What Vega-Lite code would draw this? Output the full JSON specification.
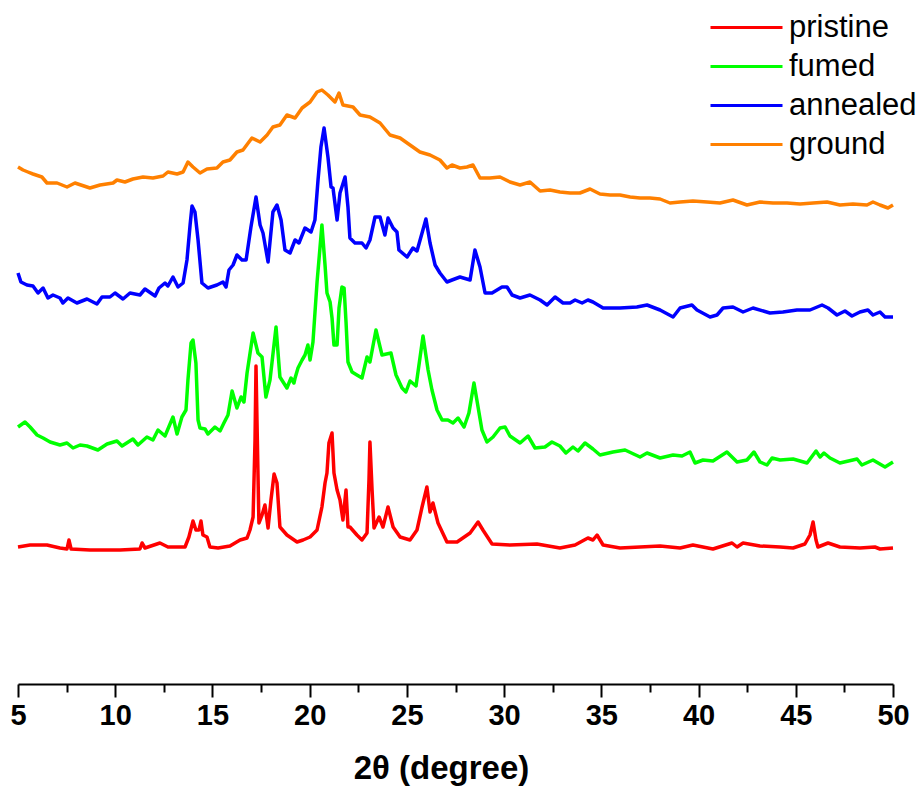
{
  "$schema": "https://vega.github.io/schema/vega-lite/v6.json",
  "width": 875,
  "height": 684,
  "autosize": {"type": "none"},
  "padding": {"left": 18, "right": 29, "top": 0, "bottom": 105},
  "background": "white",
  "config": {"view": {"stroke": null}},
  "datasets": {
    "ground": [[5.00,517],[5.26,514],[5.51,512],[5.77,510],[6.23,507],[6.49,501],[7.01,501],[7.52,497],[7.93,501],[8.70,496],[9.22,499],[9.89,501],[10.09,504],[10.50,502],[10.91,505],[11.43,507],[11.94,506],[12.46,508],[12.71,512],[13.18,510],[13.49,512],[13.74,522],[14.00,517],[14.36,511],[14.72,515],[15.23,516],[15.54,522],[15.90,524],[16.26,532],[16.57,534],[17.03,546],[17.45,542],[17.81,549],[18.11,557],[18.47,559],[18.83,569],[19.25,566],[19.61,576],[20.02,582],[20.38,592],[20.63,594],[20.94,589],[21.30,582],[21.51,591],[21.71,579],[22.23,577],[22.59,569],[23.10,567],[23.62,561],[24.13,549],[24.65,546],[25.16,539],[25.67,532],[26.19,529],[26.70,524],[27.06,516],[27.32,519],[27.73,516],[28.09,517],[28.40,519],[28.76,506],[29.27,506],[29.79,507],[30.30,502],[30.82,499],[31.33,502],[31.85,493],[32.36,494],[32.87,492],[33.39,491],[33.90,491],[34.42,495],[34.93,490],[35.45,489],[35.96,489],[36.48,487],[36.99,486],[37.50,486],[38.02,485],[38.53,481],[39.05,482],[39.71,483],[40.44,482],[41.10,481],[41.77,484],[42.49,479],[43.16,482],[43.83,481],[44.55,481],[45.22,480],[45.89,481],[46.61,482],[47.27,479],[47.94,480],[48.66,479],[48.97,482],[49.33,479],[49.74,476],[50.00,479]],
    "annealed": [[5.00,411],[5.15,402],[5.46,399],[5.77,398],[6.03,391],[6.29,396],[6.54,386],[6.80,389],[7.16,386],[7.31,381],[7.57,386],[8.03,381],[8.55,385],[9.06,380],[9.32,387],[9.73,387],[9.99,391],[10.40,385],[10.76,391],[11.27,389],[11.53,395],[12.05,388],[12.25,396],[12.56,401],[12.71,398],[12.97,407],[13.23,397],[13.49,401],[13.69,424],[13.85,459],[13.95,478],[14.10,472],[14.26,444],[14.46,401],[14.77,396],[15.23,399],[15.54,402],[15.70,397],[15.85,414],[16.06,419],[16.26,429],[16.52,424],[16.73,424],[16.98,457],[17.24,487],[17.45,459],[17.60,451],[17.86,422],[18.11,472],[18.32,479],[18.53,464],[18.73,434],[18.99,431],[19.25,444],[19.45,441],[19.76,456],[20.07,452],[20.27,464],[20.43,504],[20.58,537],[20.74,556],[20.94,527],[21.10,497],[21.20,496],[21.41,464],[21.56,491],[21.82,507],[21.97,477],[22.07,446],[22.33,441],[22.69,441],[22.90,436],[23.10,444],[23.36,467],[23.62,467],[23.87,449],[24.03,466],[24.29,456],[24.49,452],[24.59,434],[25.01,427],[25.31,436],[25.52,433],[25.78,451],[25.98,465],[26.19,441],[26.45,419],[26.70,411],[27.06,402],[27.32,404],[27.73,407],[28.25,404],[28.50,434],[28.76,417],[29.02,391],[29.38,391],[29.89,397],[30.15,397],[30.41,389],[30.82,386],[31.33,389],[31.85,384],[32.21,379],[32.62,387],[33.03,381],[33.39,381],[33.65,384],[34.01,381],[34.31,384],[34.57,382],[35.09,376],[35.96,376],[36.83,377],[37.35,379],[38.02,374],[38.69,367],[39.05,376],[39.66,379],[39.92,374],[40.59,367],[40.95,369],[41.26,376],[41.77,377],[42.29,372],[42.80,376],[43.67,371],[44.34,372],[45.06,374],[45.73,374],[46.35,379],[46.66,376],[47.12,369],[47.53,373],[47.89,368],[48.30,372],[48.71,374],[48.97,369],[49.33,372],[49.59,367],[50.00,367]],
    "fumed": [[5.00,257],[5.36,262],[5.62,257],[5.98,249],[6.29,246],[6.65,242],[7.16,239],[7.52,241],[7.83,236],[8.19,239],[8.55,238],[9.11,234],[9.58,240],[10.09,243],[10.35,238],[10.91,245],[11.17,239],[11.63,247],[11.94,244],[12.20,254],[12.56,248],[12.97,267],[13.18,250],[13.43,267],[13.64,274],[13.74,304],[13.90,341],[14.00,344],[14.15,321],[14.26,264],[14.36,256],[14.62,255],[14.77,250],[15.13,257],[15.39,253],[15.59,261],[15.80,269],[16.01,293],[16.26,276],[16.47,287],[16.62,282],[16.78,311],[17.09,351],[17.34,331],[17.55,327],[17.75,287],[17.96,304],[18.27,357],[18.47,307],[18.83,296],[19.04,306],[19.19,301],[19.25,306],[19.40,316],[19.61,324],[19.76,329],[19.91,339],[20.02,324],[20.17,342],[20.38,402],[20.53,436],[20.63,459],[20.79,419],[20.89,391],[21.05,382],[21.15,366],[21.25,339],[21.41,339],[21.51,376],[21.66,397],[21.77,396],[21.87,362],[21.97,322],[22.18,312],[22.43,309],[22.69,306],[22.95,327],[23.10,322],[23.41,354],[23.72,329],[24.18,331],[24.44,309],[24.75,296],[24.95,292],[25.16,303],[25.47,298],[25.83,348],[26.09,314],[26.29,294],[26.55,274],[26.81,264],[27.11,264],[27.37,261],[27.63,266],[27.94,257],[28.19,271],[28.45,301],[28.66,277],[28.86,254],[29.12,242],[29.43,247],[29.79,256],[30.05,257],[30.30,248],[30.82,241],[31.23,248],[31.59,236],[32.10,237],[32.46,242],[32.87,238],[33.18,231],[33.54,237],[33.80,233],[34.16,241],[34.57,235],[34.93,229],[35.60,232],[36.22,234],[36.99,227],[37.35,231],[38.02,226],[38.69,229],[39.15,228],[39.56,232],[39.82,221],[40.23,224],[40.74,223],[41.46,232],[41.98,222],[42.49,224],[42.85,232],[43.16,222],[43.52,219],[43.78,226],[44.19,224],[44.86,225],[45.58,221],[46.04,233],[46.25,227],[46.45,231],[46.76,226],[47.27,221],[48.15,225],[48.40,219],[48.97,224],[49.59,217],[50.00,222]],
    "pristine": [[5.00,137],[5.62,139],[6.49,139],[7.16,136],[7.52,135],[7.62,144],[7.73,135],[8.70,134],[10.25,134],[11.27,135],[11.38,141],[11.53,136],[12.30,141],[12.71,137],[13.59,137],[13.79,147],[14.00,163],[14.15,154],[14.31,154],[14.41,163],[14.51,149],[14.72,147],[14.87,137],[15.29,136],[15.90,138],[16.42,144],[16.78,146],[16.93,154],[17.09,167],[17.19,244],[17.24,318],[17.29,264],[17.39,161],[17.55,169],[17.70,179],[17.86,156],[18.01,184],[18.17,210],[18.32,201],[18.47,157],[18.83,149],[19.35,142],[19.66,144],[20.02,147],[20.38,154],[20.63,177],[20.79,201],[20.89,211],[20.99,241],[21.15,251],[21.25,211],[21.41,194],[21.56,184],[21.71,164],[21.87,194],[21.97,157],[22.07,157],[22.43,149],[22.69,144],[22.95,151],[23.05,204],[23.10,242],[23.21,194],[23.31,156],[23.57,167],[23.77,157],[24.03,177],[24.29,157],[24.65,147],[25.16,144],[25.52,154],[25.78,177],[26.03,197],[26.19,172],[26.34,181],[26.60,161],[27.06,142],[27.58,142],[28.25,151],[28.66,162],[28.91,154],[29.38,140],[30.30,139],[31.69,140],[32.87,136],[33.65,139],[34.31,146],[34.57,144],[34.78,149],[35.09,139],[35.96,136],[36.99,137],[38.02,138],[39.05,136],[39.71,139],[40.74,135],[41.72,141],[41.98,137],[42.29,141],[43.16,138],[44.19,137],[44.86,136],[45.47,140],[45.73,149],[45.89,162],[46.04,144],[46.14,137],[46.66,141],[47.27,137],[48.30,136],[49.07,137],[49.33,135],[50.00,136]]
  },
  "layer": [
    {"data": {"name": "ground"}, "transform": [{"calculate": "'ground'", "as": "sample"}, {"calculate": "datum[0]", "as": "theta"}, {"calculate": "datum[1]", "as": "intensity"}], "mark": {"type": "line", "strokeWidth": 3.5, "strokeJoin": "round"}, "encoding": {}},
    {"data": {"name": "annealed"}, "transform": [{"calculate": "'annealed'", "as": "sample"}, {"calculate": "datum[0]", "as": "theta"}, {"calculate": "datum[1]", "as": "intensity"}], "mark": {"type": "line", "strokeWidth": 3.5, "strokeJoin": "round"}, "encoding": {}},
    {"data": {"name": "fumed"}, "transform": [{"calculate": "'fumed'", "as": "sample"}, {"calculate": "datum[0]", "as": "theta"}, {"calculate": "datum[1]", "as": "intensity"}], "mark": {"type": "line", "strokeWidth": 3.5, "strokeJoin": "round"}, "encoding": {}},
    {"data": {"name": "pristine"}, "transform": [{"calculate": "'pristine'", "as": "sample"}, {"calculate": "datum[0]", "as": "theta"}, {"calculate": "datum[1]", "as": "intensity"}], "mark": {"type": "line", "strokeWidth": 3.5, "strokeJoin": "round"}, "encoding": {}}
  ],
  "encoding": {
    "x": {"field": "theta", "type": "quantitative",
      "scale": {"domain": [5, 50], "nice": false, "zero": false},
      "axis": {"title": "2θ (degree)", "values": [5,7.5,10,12.5,15,17.5,20,22.5,25,27.5,30,32.5,35,37.5,40,42.5,45,47.5,50],
        "labelExpr": "datum.value % 5 == 0 ? datum.label : ''",
        "tickSize": {"condition": {"test": "datum.value % 5 != 0", "value": 8}, "value": 13},
        "tickWidth": 2, "tickColor": "black", "domainWidth": 2, "domainColor": "black",
        "labelFont": "Liberation Sans", "labelFontWeight": "bold", "labelFontSize": 29, "labelColor": "black",
        "labelPadding": 4, "labelFlush": false, "labelOverlap": false, "grid": false,
        "titleFont": "Liberation Sans", "titleFontSize": 33, "titleFontWeight": "bold", "titleColor": "black",
        "titlePadding": 22, "titleX": 423, "titleAlign": "center", "titleAnchor": "middle"}},
    "y": {"field": "intensity", "type": "quantitative", "scale": {"domain": [0, 684], "nice": false, "zero": false}, "axis": null},
    "color": {"field": "sample", "type": "nominal",
      "scale": {"domain": ["pristine", "fumed", "annealed", "ground"], "range": ["#ff0000", "#00ff00", "#0000ff", "#ff8000"]},
      "legend": {"title": null, "orient": "none", "legendX": 713, "legendY": 12, "padding": 0,
        "symbolType": "M-3,0H3", "symbolSize": 576, "symbolStrokeWidth": 3,
        "labelFont": "Liberation Sans", "labelFontSize": 31, "labelColor": "black", "labelOffset": 27, "rowPadding": 7}}
  }
}
